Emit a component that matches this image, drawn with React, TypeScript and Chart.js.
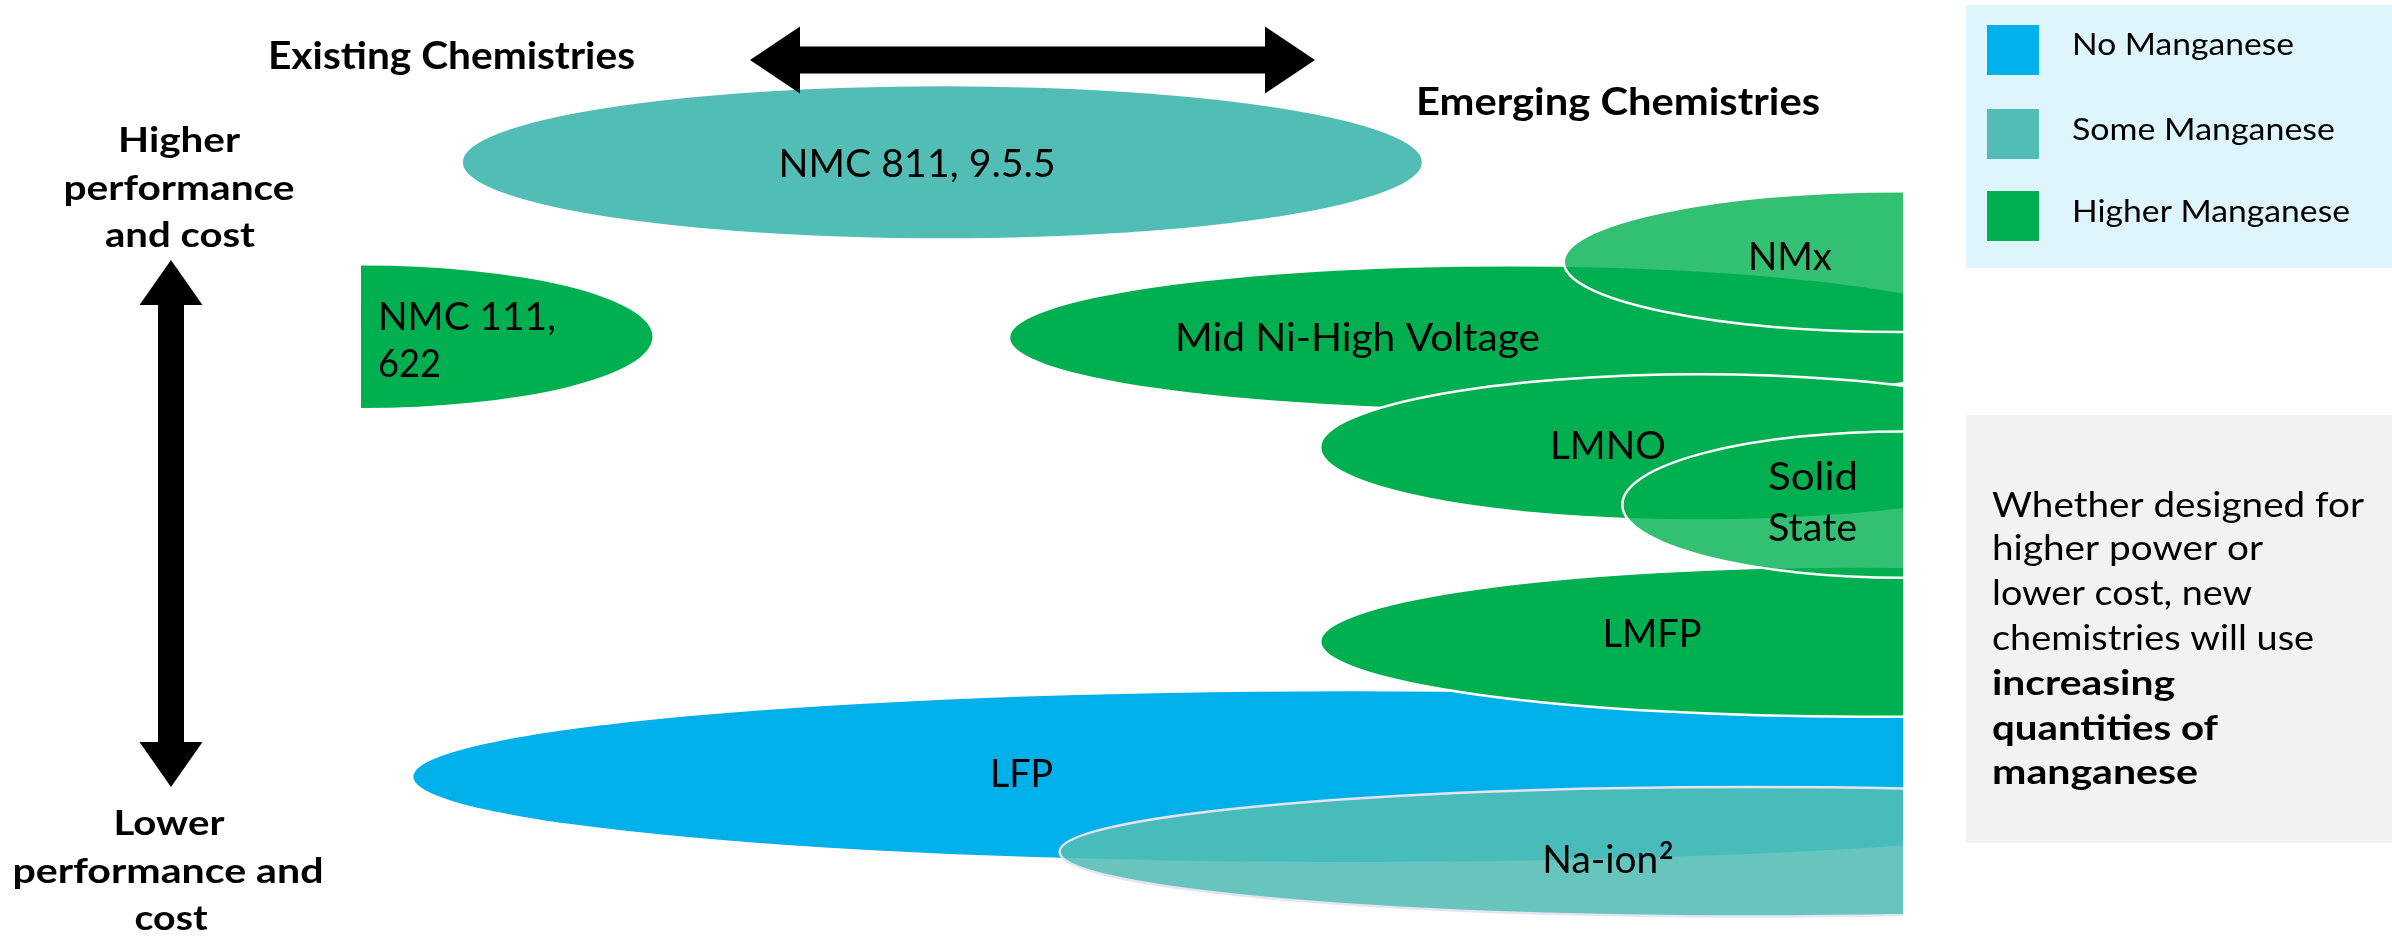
import React, { useEffect, useRef } from "react";
import { Chart, registerables } from "chart.js";

Chart.register(...registerables);

// ---------------- data (chart units: x 0-100 existing -> emerging, y 0-100 lower -> higher performance & cost)
const chemistries = [
  "NMC 811, 9.5.5",
  "NMC 111, 622",
  "LFP",
  "Mid Ni-High Voltage",
  "NMx",
  "LMNO",
  "LMFP",
  "Solid State",
  "Na-ion²",
];
const manganeseLevel = ["Some", "Higher", "No", "Higher", "Higher", "Higher", "Higher", "Higher", "Some"];
const centreX = [37.7, 0, 64.1, 74.5, 100, 86.8, 97.2, 100, 90.1];
const centreY = [82.7, 64.1, 17.2, 64.0, 72.1, 52.3, 31.6, 46.2, 9.2];
const halfWidth = [31.1, 18.9, 60.7, 32.4, 22.0, 24.6, 35.0, 18.2, 44.8];
const halfHeight = [8.1, 7.6, 9.1, 7.6, 7.5, 7.8, 8.0, 7.8, 6.9];

const legendLabels = ["No Manganese", "Some Manganese", "Higher Manganese"];
const legendLevels = ["No", "Some", "Higher"];

// ---------------- styles
const levelColour: Record<string, string> = {
  No: "#00B0EA",
  Some: "#52BDB4",
  Higher: "#00B050",
};
const translucent: Record<string, number> = { NMx: 0.8, "Solid State": 0.8, "Na-ion²": 0.88 };
const borderColour: Record<string, string> = {
  NMx: "#FFFFFF",
  LMNO: "#FFFFFF",
  LMFP: "#FFFFFF",
  "Solid State": "#FFFFFF",
  "Na-ion²": "#E4E4F2",
};

// label layout: anchor in chart units, baseline per line, target pixel width per line
type LabelLine = { text: string; x: number; y: number; w: number; sup?: string };
const labelLayout: Record<string, { align: CanvasTextAlign; lines: LabelLine[] }> = {
  "NMC 811, 9.5.5": { align: "center", lines: [{ text: "NMC 811, 9.5.5", x: 36.06, y: 81.13, w: 277 }] },
  "NMC 111, 622": {
    align: "left",
    lines: [
      { text: "NMC 111,", x: 1.1, y: 64.82, w: 178 },
      { text: "622", x: 1.1, y: 59.81, w: 63 },
    ],
  },
  LFP: { align: "center", lines: [{ text: "LFP", x: 42.83, y: 16.1, w: 63 }] },
  "Mid Ni-High Voltage": { align: "center", lines: [{ text: "Mid Ni-High Voltage", x: 64.62, y: 62.58, w: 365 }] },
  NMx: { align: "center", lines: [{ text: "NMx", x: 92.67, y: 71.22, w: 84 }] },
  LMNO: { align: "center", lines: [{ text: "LMNO", x: 80.87, y: 51.07, w: 116 }] },
  LMFP: { align: "center", lines: [{ text: "LMFP", x: 83.72, y: 31.02, w: 99 }] },
  "Solid State": {
    align: "left",
    lines: [
      { text: "Solid", x: 91.25, y: 47.76, w: 90 },
      { text: "State", x: 91.25, y: 42.32, w: 89 },
    ],
  },
  "Na-ion²": { align: "left", lines: [{ text: "Na-ion", x: 76.61, y: 6.93, w: 116, sup: "2" }] },
};

const FONT = "Lato, 'Open Sans', 'Noto Sans', sans-serif";

function drawText(
  ctx: CanvasRenderingContext2D,
  text: string,
  x: number,
  y: number,
  size: number,
  bold: boolean,
  align: CanvasTextAlign,
  width?: number
): number {
  ctx.save();
  ctx.font = `${bold ? "bold " : ""}${size}px ${FONT}`;
  ctx.textBaseline = "alphabetic";
  ctx.textAlign = align;
  ctx.fillStyle = "#000000";
  let sx = 1;
  const m = ctx.measureText(text).width;
  if (width && m > 0) sx = Math.min(1.25, Math.max(0.8, width / m));
  ctx.translate(x, y);
  ctx.scale(sx, 1);
  ctx.fillText(text, 0, 0);
  ctx.restore();
  return m * sx;
}

function hArrow(ctx: CanvasRenderingContext2D, x1: number, x2: number, y: number, shaft: number, headLen: number, headH: number) {
  ctx.beginPath();
  ctx.moveTo(x1, y);
  ctx.lineTo(x1 + headLen, y - headH / 2);
  ctx.lineTo(x1 + headLen, y - shaft / 2);
  ctx.lineTo(x2 - headLen, y - shaft / 2);
  ctx.lineTo(x2 - headLen, y - headH / 2);
  ctx.lineTo(x2, y);
  ctx.lineTo(x2 - headLen, y + headH / 2);
  ctx.lineTo(x2 - headLen, y + shaft / 2);
  ctx.lineTo(x1 + headLen, y + shaft / 2);
  ctx.lineTo(x1 + headLen, y + headH / 2);
  ctx.closePath();
  ctx.fillStyle = "#000000";
  ctx.fill();
}

function vArrow(ctx: CanvasRenderingContext2D, x: number, y1: number, y2: number, shaft: number, headLen: number, headW: number) {
  ctx.beginPath();
  ctx.moveTo(x, y1);
  ctx.lineTo(x + headW / 2, y1 + headLen);
  ctx.lineTo(x + shaft / 2, y1 + headLen);
  ctx.lineTo(x + shaft / 2, y2 - headLen);
  ctx.lineTo(x + headW / 2, y2 - headLen);
  ctx.lineTo(x, y2);
  ctx.lineTo(x - headW / 2, y2 - headLen);
  ctx.lineTo(x - shaft / 2, y2 - headLen);
  ctx.lineTo(x - shaft / 2, y1 + headLen);
  ctx.lineTo(x - headW / 2, y1 + headLen);
  ctx.closePath();
  ctx.fillStyle = "#000000";
  ctx.fill();
}

const diagramPlugin = {
  id: "chemistryDiagram",
  afterDatasetsDraw(chart: any) {
    const ctx: CanvasRenderingContext2D = chart.ctx;
    const xs = chart.scales.x;
    const ys = chart.scales.y;
    const area = chart.chartArea;

    // ellipses, clipped to the plot area
    ctx.save();
    ctx.beginPath();
    ctx.rect(area.left, area.top, area.right - area.left, area.bottom - area.top);
    ctx.clip();
    chemistries.forEach((name, i) => {
      const cx = xs.getPixelForValue(centreX[i]);
      const cy = ys.getPixelForValue(centreY[i]);
      const rx = Math.abs(xs.getPixelForValue(centreX[i] + halfWidth[i]) - cx);
      const ry = Math.abs(ys.getPixelForValue(centreY[i] + halfHeight[i]) - cy);
      ctx.save();
      ctx.globalAlpha = translucent[name] ?? 1;
      ctx.fillStyle = levelColour[manganeseLevel[i]];
      ctx.beginPath();
      ctx.ellipse(cx, cy, rx, ry, 0, 0, Math.PI * 2);
      ctx.fill();
      ctx.restore();
      if (borderColour[name]) {
        ctx.save();
        ctx.strokeStyle = borderColour[name];
        ctx.lineWidth = 2.5;
        ctx.beginPath();
        ctx.ellipse(cx, cy, rx, ry, 0, 0, Math.PI * 2);
        ctx.stroke();
        ctx.restore();
      }
    });
    ctx.restore();

    // ellipse labels
    chemistries.forEach((name) => {
      const lay = labelLayout[name];
      lay.lines.forEach((ln) => {
        const px = xs.getPixelForValue(ln.x);
        const py = ys.getPixelForValue(ln.y);
        const w = drawText(ctx, ln.text, px, py, 38, false, lay.align, ln.w);
        if (ln.sup) drawText(ctx, ln.sup, px + w + 1, py - 14, 24, true, "left");
      });
    });

    // arrows
    hArrow(ctx, 750, 1315, 60, 27, 50, 67);
    vArrow(ctx, 171, 260, 787, 26, 45, 63);

    // headings
    drawText(ctx, "Existing Chemistries", 268, 69, 38, true, "left", 367);
    drawText(ctx, "Emerging Chemistries", 1416, 115, 38, true, "left", 404);

    // axis labels
    drawText(ctx, "Higher", 179, 152, 35, true, "center", 122);
    drawText(ctx, "performance", 179, 200, 35, true, "center", 231);
    drawText(ctx, "and cost", 180, 247, 35, true, "center", 150);
    drawText(ctx, "Lower", 169, 835, 35, true, "center", 111);
    drawText(ctx, "performance and", 168, 883, 35, true, "center", 311);
    drawText(ctx, "cost", 171, 930, 35, true, "center", 73);

    // legend
    ctx.fillStyle = "#DFF5FD";
    ctx.fillRect(1966, 5, 426, 263);
    const swatchTop = [25, 109, 191];
    const legendBase = [55, 140, 222];
    const legendW = [222, 263, 278];
    legendLabels.forEach((lbl, i) => {
      ctx.fillStyle = levelColour[legendLevels[i]];
      ctx.fillRect(1987, swatchTop[i], 52, 50);
      drawText(ctx, lbl, 2072, legendBase[i], 31, false, "left", legendW[i]);
    });

    // message box
    ctx.fillStyle = "#F2F2F2";
    ctx.fillRect(1966, 415, 426, 428);
    const boxLines: [string, boolean, number, number][] = [
      ["Whether designed for", false, 517, 372],
      ["higher power or", false, 560, 271],
      ["lower cost, new", false, 605, 260],
      ["chemistries will use", false, 650, 322],
      ["increasing", true, 695, 183],
      ["quantities of", true, 740, 226],
      ["manganese", true, 784, 206],
    ];
    boxLines.forEach(([t, b, y, w]) => drawText(ctx, t, 1992, y, 35, b, "left", w));
  },
};

export default function App() {
  const canvasRef = useRef<HTMLCanvasElement | null>(null);

  useEffect(() => {
    document.body.style.margin = "0";
    document.body.style.overflow = "hidden";
    const canvas = canvasRef.current;
    if (!canvas) return;
    const datasets = legendLevels.map((lvl, k) => ({
      label: legendLabels[k],
      data: chemistries
        .map((_, i) => ({ x: centreX[i], y: centreY[i], lvl: manganeseLevel[i] }))
        .filter((p) => p.lvl === lvl)
        .map((p) => ({ x: p.x, y: p.y })),
      pointRadius: 0,
      pointHoverRadius: 0,
      backgroundColor: levelColour[lvl],
    }));
    const chart = new Chart(canvas, {
      type: "scatter",
      data: { datasets },
      options: {
        animation: false,
        responsive: false,
        maintainAspectRatio: false,
        devicePixelRatio: 1,
        events: [],
        layout: { padding: { left: 361, right: 489, top: 0, bottom: 0 } },
        scales: {
          x: { type: "linear", min: 0, max: 100, display: false },
          y: { type: "linear", min: 0, max: 100, display: false },
        },
        plugins: { legend: { display: false }, tooltip: { enabled: false }, title: { display: false } },
      },
      plugins: [diagramPlugin],
    });
    const fonts: any = (document as any).fonts;
    if (fonts && fonts.load) {
      Promise.all([fonts.load("38px Lato"), fonts.load("bold 38px Lato")])
        .then(() => chart.draw())
        .catch(() => {});
    }
    return () => chart.destroy();
  }, []);

  return (
    <div style={{ width: 2392, height: 938, background: "#FFFFFF" }}>
      <canvas ref={canvasRef} width={2392} height={938} style={{ width: 2392, height: 938, display: "block" }} />
    </div>
  );
}
